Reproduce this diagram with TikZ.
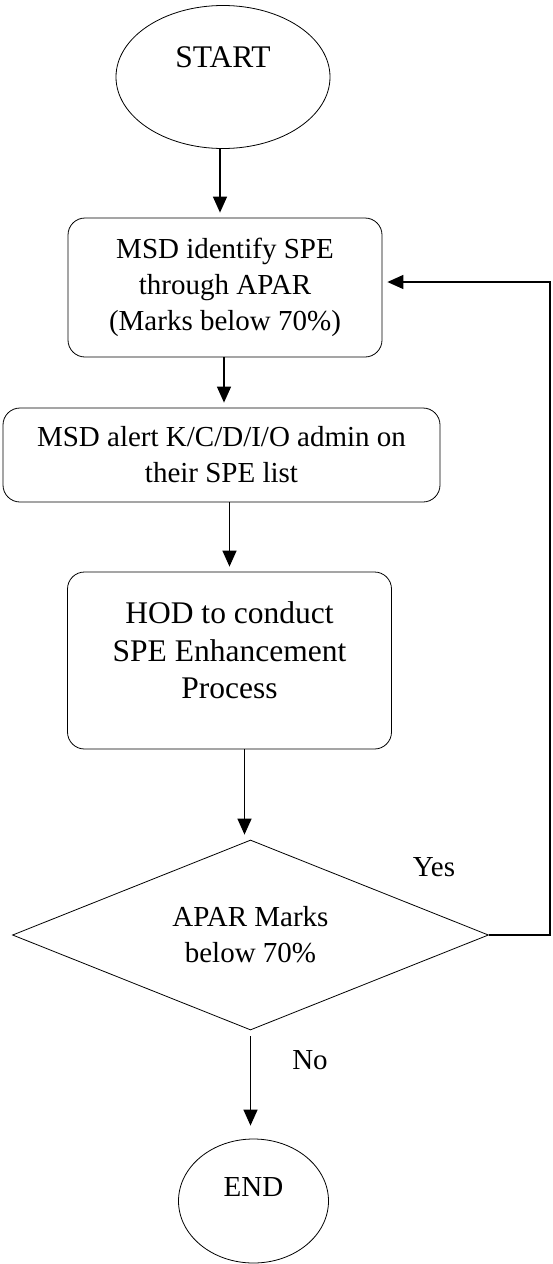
\documentclass[tikz,border=0pt]{standalone}
\usepackage{fontspec}
\setmainfont{Liberation Serif}
\usepackage{tikz}
\usetikzlibrary{shapes, arrows.meta, positioning, calc}
\tikzstyle{terminal} = [ellipse, minimum width=214pt, minimum height=143pt, text centered, draw=black, line width=0.8pt, text depth=40pt]
\tikzstyle{process} = [rectangle, rounded corners=17pt, text centered, align=center, draw=black, line width=0.8pt]
\tikzstyle{decision} = [diamond, aspect=2.5, inner sep=0pt, minimum width=476pt, minimum height=190pt, text centered, align=center, draw=black, line width=0.8pt]
\tikzstyle{answer} = [text centered]
\tikzstyle{arrow} = [line width=1.4pt, -{Triangle[length=16pt, width=14pt]}, shorten >=5pt]

\begin{document}
\begin{tikzpicture}[node distance=200pt, font=\fontsize{29}{36}\selectfont]
\useasboundingbox (0,0) rectangle (552pt,-1264pt);
\node (start) [terminal, font=\fontsize{31.5}{38}\selectfont] at (223pt,-77pt) {START};
\node (identify) [process, minimum width=314pt, minimum height=139pt, below of=start, xshift=2pt, yshift=-10.5pt] {MSD identify SPE\\ through APAR\\ (Marks below 70\%)};
\node (alert) [process, minimum width=437pt, minimum height=94pt, below of=identify, xshift=-3.5pt, yshift=32.5pt] {MSD alert K/C/D/I/O admin on\\ their SPE list};
\node (enhance) [process, minimum width=324pt, minimum height=177pt, text depth=20pt, font=\fontsize{31.5}{37.5}\selectfont, below of=alert, xshift=8pt, yshift=-5.5pt] {HOD to conduct\\ SPE Enhancement\\ Process};
\node (check) [decision, below of=enhance, xshift=21pt, yshift=-74.5pt] {APAR Marks\\ below 70\%};
\node (end) [terminal, minimum width=150pt, minimum height=124pt, text depth=28pt, below of=check, xshift=3pt, yshift=-66pt] {END};
\node (yes) [answer] at (434pt,-867pt) {Yes};
\node (no) [answer] at (310pt,-1060pt) {No};
\coordinate (loop) at (550pt,-282pt);

\draw[arrow] ([xshift=-3pt]start.south) -- ([xshift=-3pt]start.south |- identify.north);
\draw[arrow] ([xshift=-1pt]identify.south) -- ([xshift=-1pt]identify.south |- alert.north);
\draw[arrow] (alert.south -| enhance.north) -- (enhance.north);
\draw[arrow] ([xshift=15pt]enhance.south) -- ([xshift=15pt]enhance.south |- check.north);
\draw[arrow, shorten <=6pt, shorten >=13pt] (check.south) -- (check.south |- end.north);
\draw[arrow] (check.east) -| (loop) -- (loop -| identify.east);
\end{tikzpicture}
\end{document}
